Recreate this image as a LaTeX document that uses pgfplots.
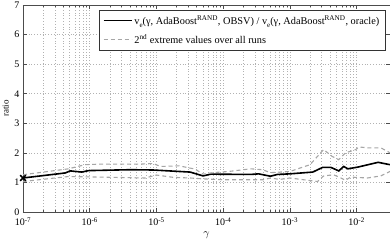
\documentclass[border=0pt]{standalone}
\usepackage{pgfplots}
\pgfplotsset{compat=1.18}
\usepackage{fontspec}
\setmainfont{Liberation Serif}
\pgfplotsset{longline/.style={legend image code/.code={\draw[##1] (0pt,0pt) -- (28pt,0pt);}}}
\begin{document}
\begin{tikzpicture}
\fontsize{10pt}{12pt}\selectfont
\begin{axis}[
  name=ax,
  scale only axis,
  width=367pt, height=207pt,
  xmode=log,
  xmin=1e-7, xmax=3.1623e-2,
  ymin=0, ymax=7,
  ytick={0,1,2,3,4,5,6,7},
  xtick={1e-7,1e-6,1e-5,1e-4,1e-3,1e-2},
  xticklabels={10\textsuperscript{-7},10\textsuperscript{-6},10\textsuperscript{-5},10\textsuperscript{-4},10\textsuperscript{-3},10\textsuperscript{-2}},
  /pgf/number format/assume math mode=true,
  tick label style={font=\fontsize{10pt}{12pt}\selectfont},
  xticklabel style={yshift=-2pt},
  grid=both,
  major grid style={dash pattern=on 0.6pt off 2.2pt, gray!60, line width=0.5pt},
  minor grid style={dash pattern=on 0.6pt off 2.2pt, gray!60, line width=0.5pt},
  minor y tick num=0,
  tick align=inside,
  tick pos=both,
  major tick length=4pt,
  minor tick length=2pt,
  every tick/.style={black!70, line width=0.5pt},
  axis line style={black!70, line width=0.8pt},
  xlabel={$\gamma$},
  xlabel style={font=\fontsize{10.5pt}{12pt}\selectfont, yshift=1pt},
  ylabel={ratio},
  ylabel style={font=\fontsize{9pt}{11pt}\selectfont, yshift=-1pt},
  legend style={at={(rel axis cs:1,1)}, anchor=north east, xshift=-5pt, yshift=-5pt,
    draw=black!80, fill=white, font=\fontsize{10.3pt}{12pt}\selectfont,
    row sep=5pt, inner sep=3.5pt, cells={anchor=west}},
  legend cell align=left,
  longline,
]
\addplot[black, line width=1.6pt] coordinates {
(1e-7,1.15) (4.3e-7,1.32) (5.1e-7,1.39) (7.6e-7,1.35) (9.6e-7,1.40)
(4.1e-6,1.43) (8.9e-6,1.42) (3.2e-5,1.35) (5e-5,1.22) (6.5e-5,1.28)
(2.6e-4,1.27) (3.4e-4,1.29) (5.1e-4,1.21) (6.5e-4,1.27) (1.0e-3,1.29)
(2.2e-3,1.35) (3.1e-3,1.51) (4.1e-3,1.51) (5.4e-3,1.39) (6.4e-3,1.54)
(7.4e-3,1.46) (1.05e-2,1.52) (2.1e-2,1.68) (3.1623e-2,1.60)
};
\addlegendentry{v\raisebox{-3pt}{\scriptsize e}(γ, AdaBoost\textsuperscript{RAND}, OBSV) / v\raisebox{-3pt}{\scriptsize e}(γ, AdaBoost\textsuperscript{RAND}, oracle)}
\addplot[gray!70, line width=1.1pt, dash pattern=on 4pt off 3pt] coordinates {
(1e-7,1.26) (4.8e-7,1.46) (8.5e-7,1.60) (1.5e-6,1.62) (5.8e-6,1.62)
(8.9e-6,1.64) (1.15e-5,1.54) (2.2e-5,1.56) (3.8e-5,1.45) (5e-5,1.28)
(6.9e-5,1.33) (1.2e-4,1.37) (2.6e-4,1.46) (3.9e-4,1.43) (5.1e-4,1.33)
(1.0e-3,1.37) (2.0e-3,1.60) (3.2e-3,2.11) (4.3e-3,1.88) (5.4e-3,1.77)
(6.8e-3,2.0) (9.7e-3,2.11) (1.08e-2,2.2) (1.45e-2,2.17) (2.3e-2,2.17)
(2.9e-2,2.05) (3.1623e-2,2.0)
};
\addlegendentry{2\textsuperscript{nd} extreme values over all runs}
\addplot[gray!70, line width=1.1pt, dash pattern=on 4pt off 3pt, forget plot] coordinates {
(1e-7,1.03) (4.8e-7,1.20) (6.8e-6,1.15) (1e-5,1.25) (1.8e-5,1.17)
(3.2e-5,1.15) (5e-5,1.12) (1e-4,1.09) (4e-4,1.09) (5.1e-4,1.15)
(7e-4,1.10) (1.0e-3,1.15) (2.6e-3,1.03) (3.2e-3,1.22) (4.5e-3,1.26)
(5.7e-3,1.16) (6.8e-3,1.07) (8.1e-3,1.18) (1.45e-2,1.15) (2.3e-2,1.22)
(3.1623e-2,1.37)
};
\addplot[black, only marks, mark=x, mark size=4pt, line width=1.5pt, forget plot] coordinates {(1e-7,1.15)};
\end{axis}
\pgfresetboundingbox
\path[use as bounding box] ([xshift=-23pt,yshift=-30pt]ax.south west) rectangle ([yshift=5pt]ax.north east);
\end{tikzpicture}
\end{document}
